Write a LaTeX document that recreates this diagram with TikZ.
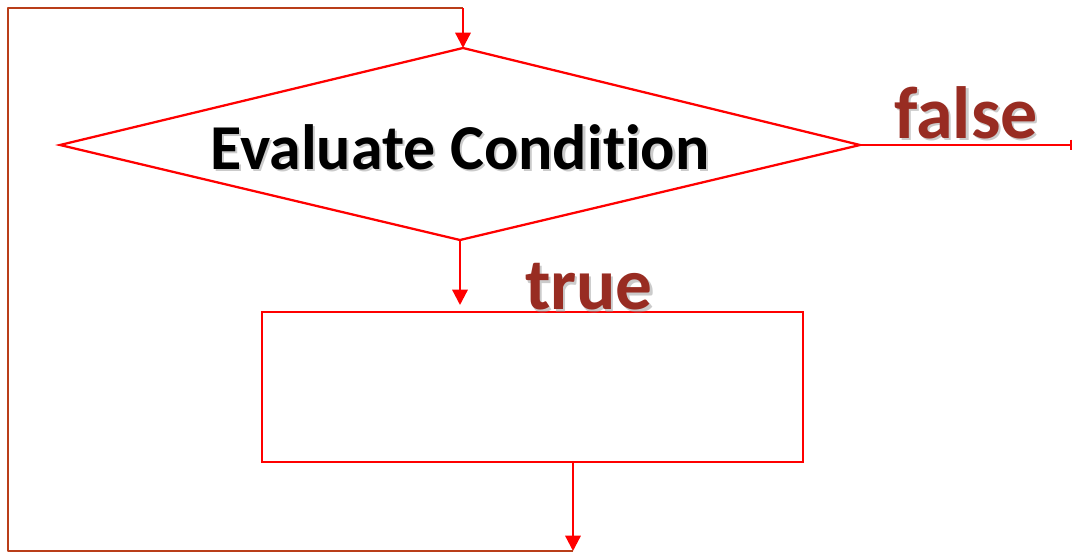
\documentclass[tikz,border=0pt]{standalone}
\usepackage{fontspec}
\setmainfont{Carlito}[Ligatures=NoCommon]
\usetikzlibrary{arrows.meta}
\definecolor{flowred}{RGB}{255,0,0}
\definecolor{loopbrown}{RGB}{185,62,25}
\definecolor{labelred}{RGB}{152,44,34}
\tikzset{
  flow/.style={draw=flowred, line width=1.7pt},
  tri/.style={-{Triangle[width=11.5pt,length=11.5pt]}},
  looppath/.style={draw=loopbrown, line width=1.7pt},
  caption/.style={font=\bfseries\fontsize{#1}{#1}\selectfont, inner sep=0pt}
}
% draws a label with a soft grey drop shadow
\newcommand{\shadowlabel}[5]{%
  \node[caption=#3, text=black!45, opacity=0.45] at ([xshift=1.6pt,yshift=-1.6pt]#2) {#4};
  \node[caption=#3, text=#5] (#1) at (#2) {#4};
}
\begin{document}
\begin{tikzpicture}[x=0.75pt,y=-0.75pt]
  \useasboundingbox (0,0) rectangle (1074,553);

  % decision diamond
  \coordinate (dl) at (60,145);
  \coordinate (dt) at (463,48);
  \coordinate (dr) at (860,145);
  \coordinate (db) at (460,240);
  \draw[flow] (dl) -- (dt) -- (dr) -- (db) -- cycle;

  % loop body
  \node[flow, rectangle, minimum width=541*0.75pt, minimum height=150*0.75pt, inner sep=0pt] (body) at (532.5,387) {};

  % loop wiring
  \coordinate (trueend) at (460,305);
  \coordinate (bodyout) at (573,462);
  \coordinate (loopin) at (573,551);
  \coordinate (bl) at (8,551);
  \coordinate (tl) at (8,8);
  \coordinate (tr) at (463,8);
  \coordinate (falseend) at (1072,145);

  \draw[flow, tri] (db) -- (trueend);
  \draw[flow, tri] (bodyout) -- (loopin);
  \draw[looppath, line join=round] (loopin) -- (bl) -- (tl) -- (tr);
  \draw[flow, tri] (tr) -- (dt);
  \draw[flow, -{Bar[width=8pt,line width=1.2pt]}] (dr) -- (falseend);

  % labels
  \shadowlabel{cond}{460,147}{48pt}{Evaluate Condition}{black}
  \shadowlabel{falselbl}{966,113}{55.5pt}{false}{labelred}
  \shadowlabel{truelbl}{589,287}{55pt}{true}{labelred}
\end{tikzpicture}
\end{document}
